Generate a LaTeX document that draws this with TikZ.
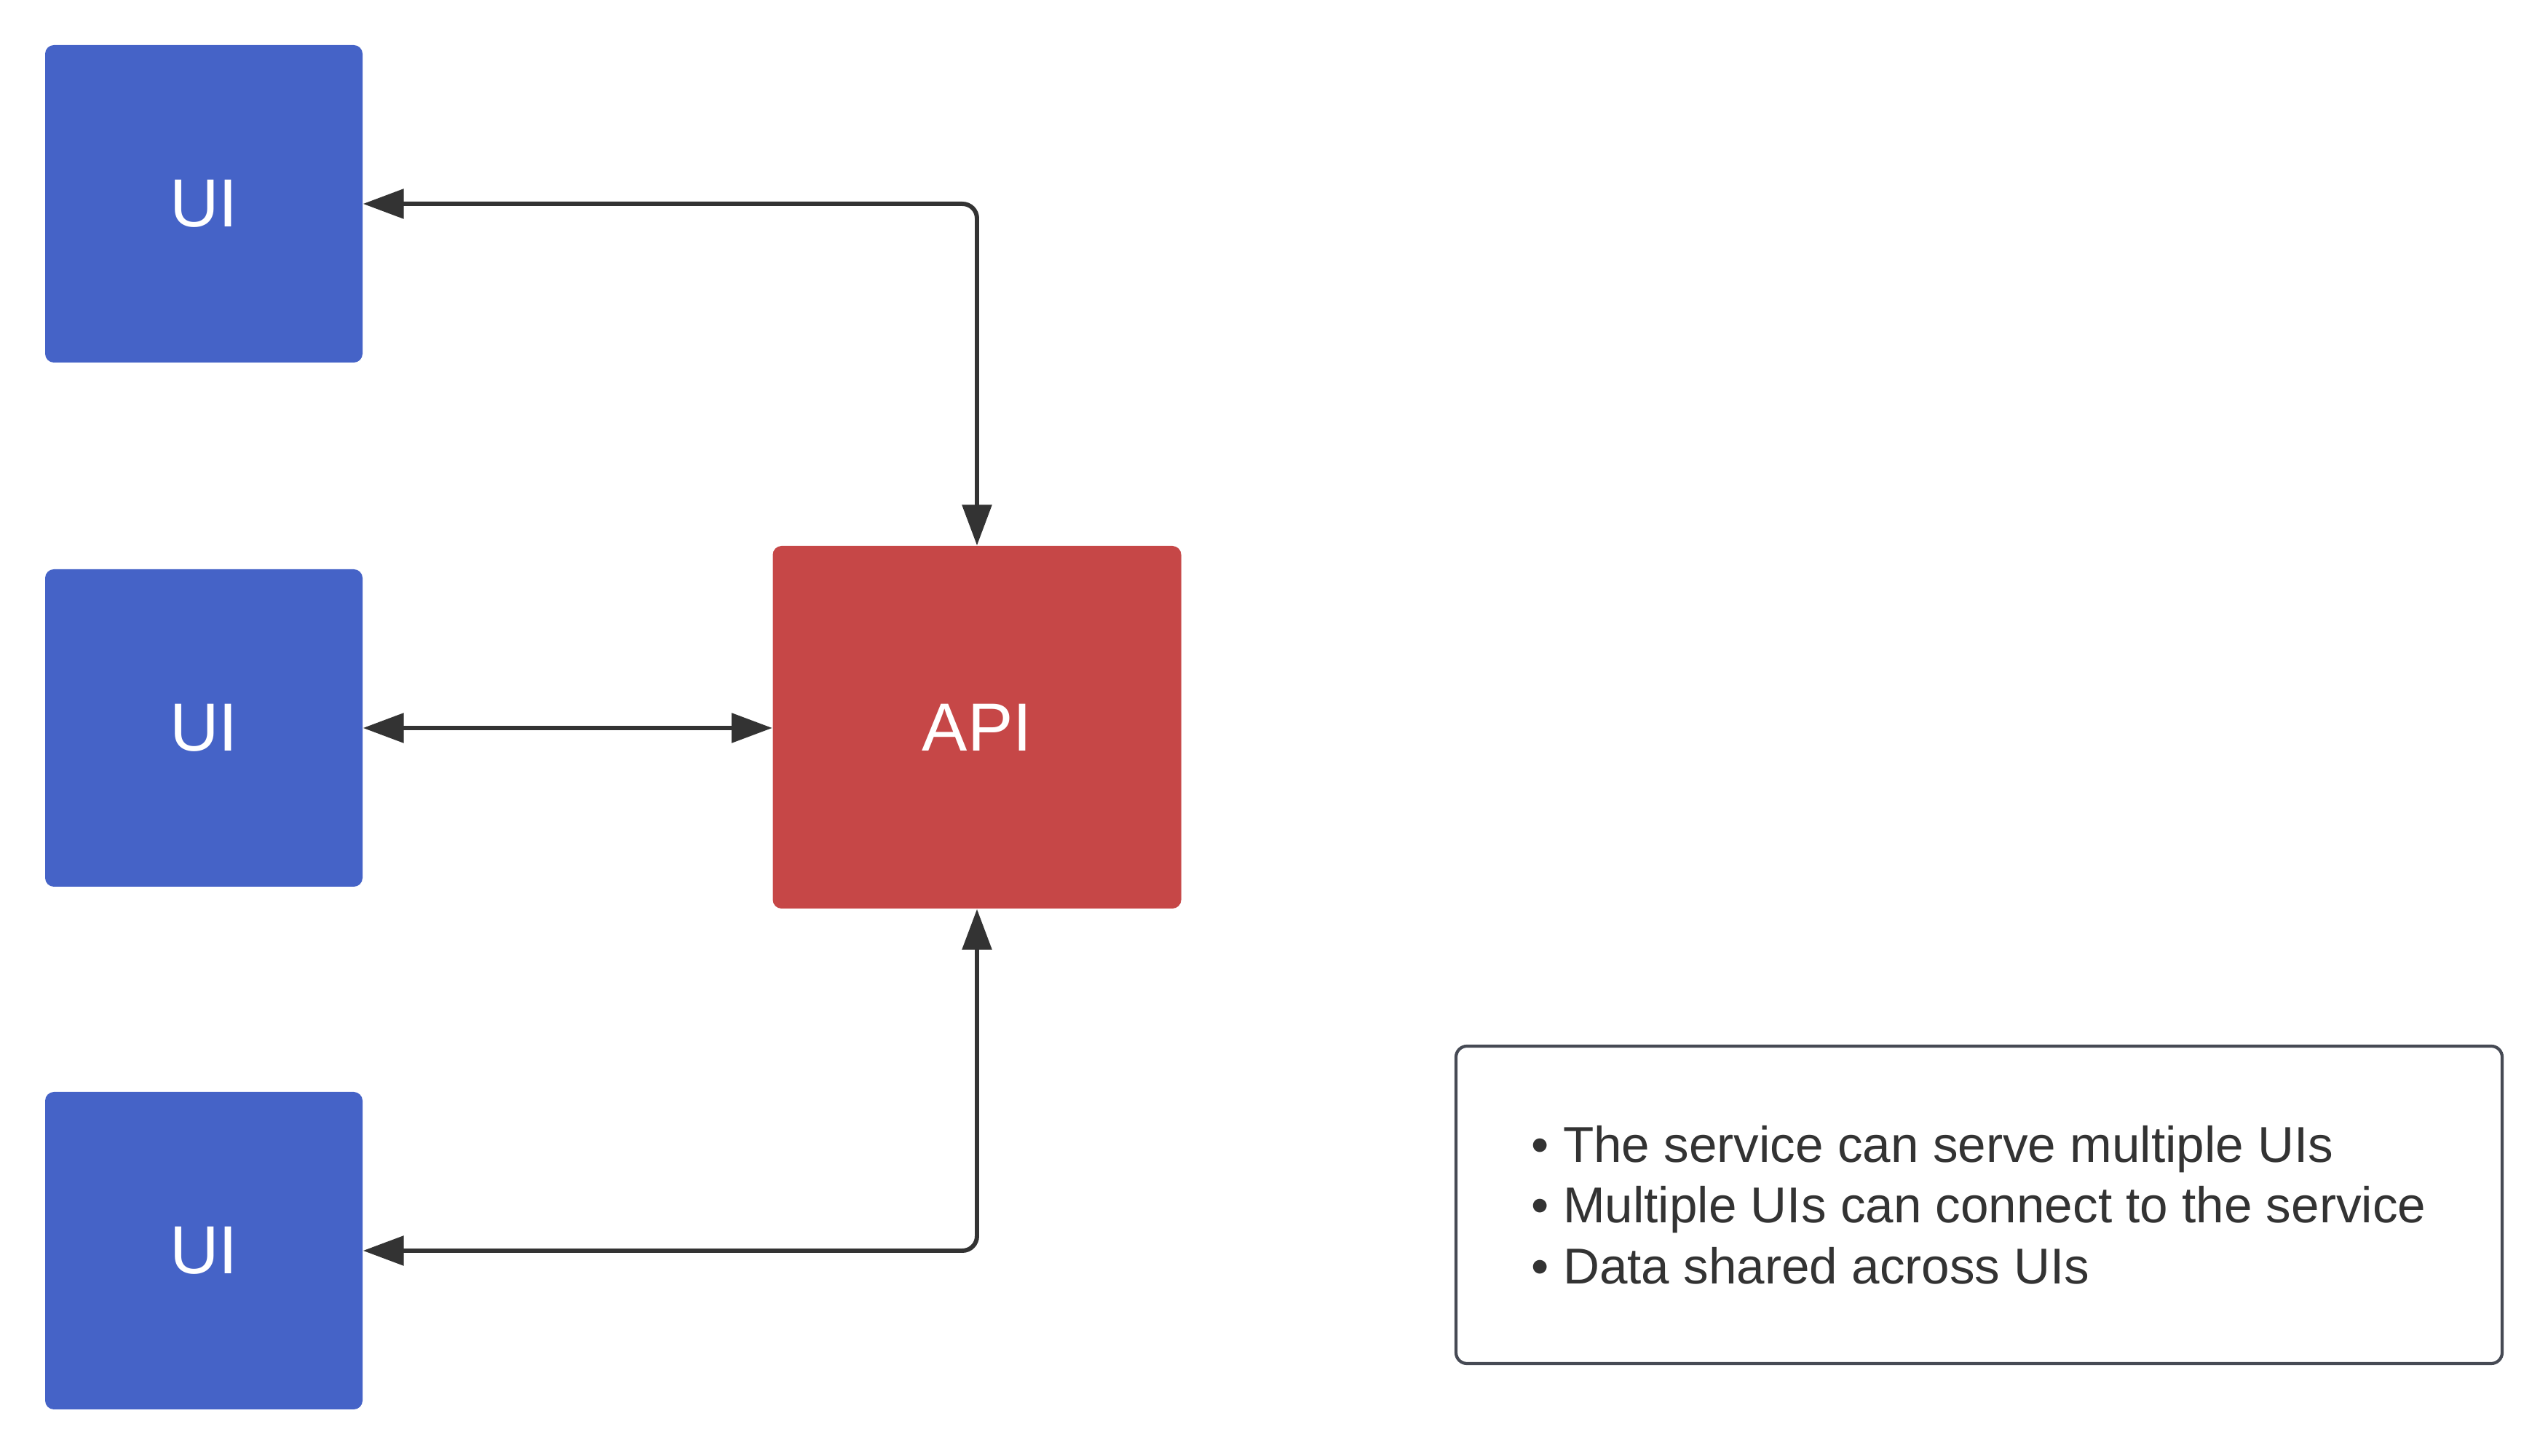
\documentclass[tikz,border=0pt]{standalone}
\usepackage{fontspec}
\setmainfont{Liberation Sans}
\usetikzlibrary{arrows.meta}
\definecolor{azulUI}{RGB}{69,99,199}
\definecolor{rojoAPI}{RGB}{198,71,71}
\definecolor{gris}{RGB}{51,51,51}
\definecolor{borde}{RGB}{70,74,84}
\tikzset{
  caja/.style={minimum width=4.36cm, minimum height=4.36cm, rounded corners=1.2mm,
    fill=azulUI, text=white, font=\fontsize{26.6}{30}\selectfont, inner sep=0pt},
  flecha/.style={{Triangle[length=5.6mm,width=4mm]}-{Triangle[length=5.6mm,width=4mm]},
    gris, line width=1.7pt, rounded corners=2mm},
}
\begin{document}
\begin{tikzpicture}
  \useasboundingbox (0,0) rectangle (35,20);

  % Interfaces
  \node[caja] (ui1) at (2.8,17.2) {UI};
  \node[caja] (ui2) at (2.8,10.0) {UI};
  \node[caja] (ui3) at (2.8,2.82) {UI};

  % Servicio
  \node[caja, fill=rojoAPI, minimum width=5.61cm, minimum height=4.98cm] (api) at (13.42,10.01) {API};

  % Conexiones
  \draw[flecha] (ui1.east) -| (api.north);
  \draw[flecha] (ui2.east) -- (api.west |- ui2.east);
  \draw[flecha] (ui3.east) -| (api.south);

  % Notas
  \node[draw=borde, line width=1.2pt, rounded corners=1.5mm, minimum width=14.37cm,
    minimum height=4.36cm] (notas) at (27.185,3.45) {};
  \node[anchor=west, inner sep=0pt, align=left, text=gris,
    font=\fontsize{19.7}{23.8}\selectfont] (lista) at (21.03,3.45)
    {• The service can serve multiple UIs\\
     • Multiple UIs can connect to the service\\
     • Data shared across UIs};
\end{tikzpicture}
\end{document}
